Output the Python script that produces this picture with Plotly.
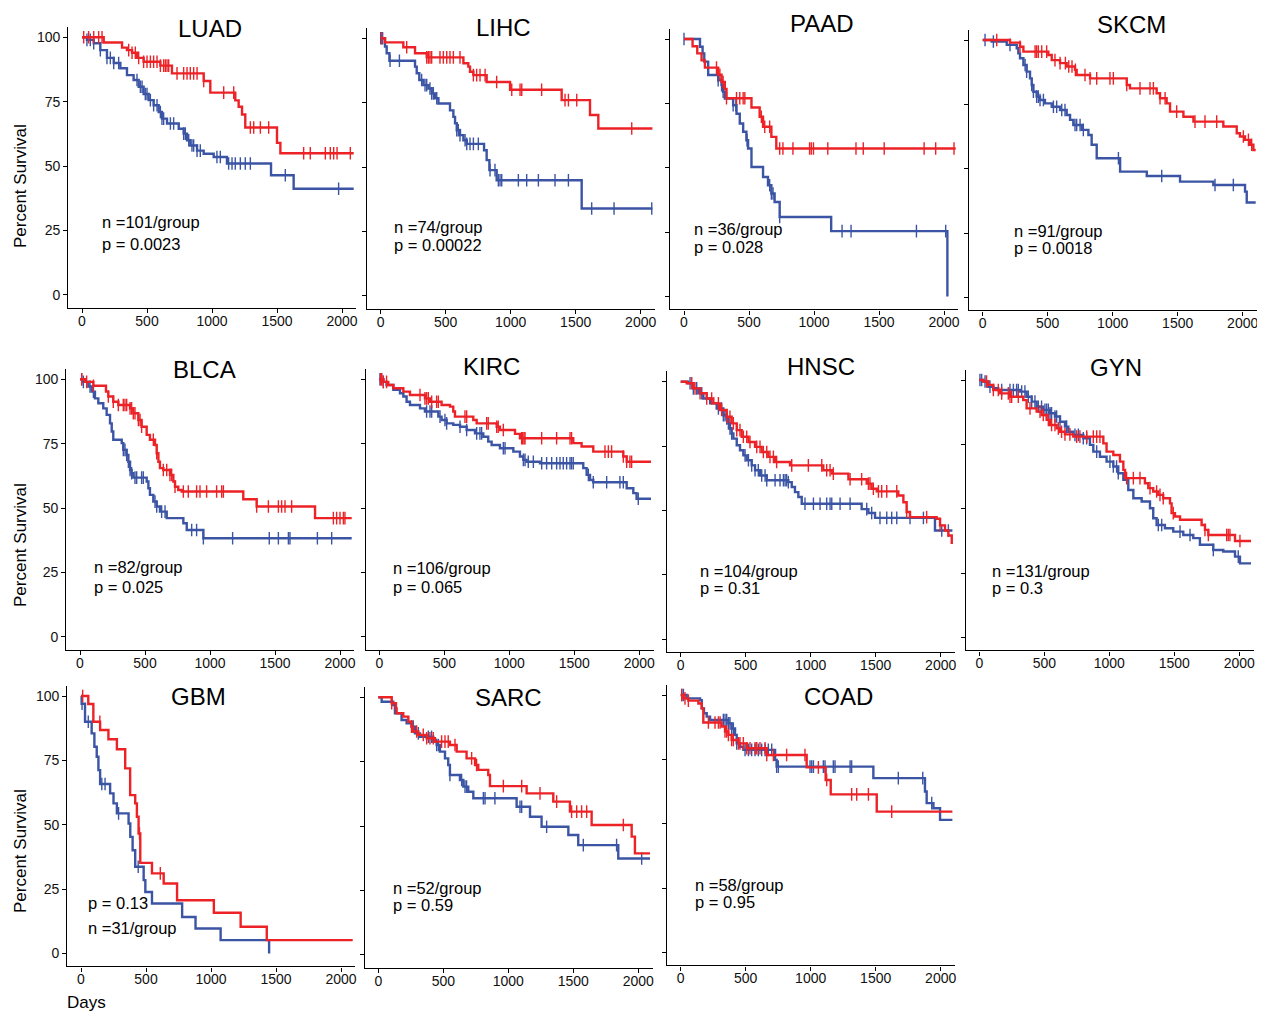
import plotly.graph_objects as go

# ---------------------------------------------------------------- labels
CANCERS = ["LUAD", "LIHC", "PAAD", "SKCM", "BLCA", "KIRC", "HNSC", "GYN", "GBM", "SARC", "COAD"]
N_PER_GROUP = [101, 74, 36, 91, 82, 106, 104, 131, 31, 52, 58]
P_VALUES = ["0.0023", "0.00022", "0.028", "0.0018", "0.025", "0.065", "0.31", "0.3", "0.13", "0.59", "0.95"]
X_TICKS = [0, 500, 1000, 1500, 2000]
Y_TICKS = [0, 25, 50, 75, 100]

# ---------------------------------------------------------------- data (days, % survival, censor days)
LUAD_RED_T = [0, 167, 308, 346, 385, 423, 474, 603, 692, 936, 987, 1179, 1205, 1231, 1256, 1500, 1526, 2090]
LUAD_RED_S = [100, 98, 96, 95, 94, 92, 90.5, 89, 86, 83, 78.5, 75.5, 73, 70, 65, 59, 55, 55]
LUAD_RED_C = [13, 51, 90, 128, 154, 359, 385, 410, 436, 474, 500, 526, 551, 577, 603, 628, 641, 654, 667, 731,
              782, 808, 833, 859, 885, 936, 1090, 1167, 1295, 1321, 1372, 1436, 1705, 1756, 1872, 1910, 1936, 1962, 2064]
LUAD_BLUE_T = [0, 38, 90, 141, 192, 244, 295, 346, 397, 436, 474, 513, 551, 590, 615, 654, 744, 782, 808, 833,
               885, 936, 1013, 1115, 1454, 1628, 2090]
LUAD_BLUE_S = [100, 99, 97.7, 95, 92, 90, 88, 85.3, 83.4, 80.8, 78, 75.6, 73.6, 71, 68.4, 66.5, 64.5, 62.6, 60, 58,
               56, 54.8, 53.5, 51, 46.4, 41.2, 41.2]
LUAD_BLUE_C = [38, 64, 90, 141, 192, 218, 244, 282, 423, 449, 462, 487, 500, 526, 551, 577, 603, 615, 628, 680, 705,
               782, 795, 821, 846, 859, 885, 910, 1038, 1064, 1128, 1154, 1179, 1218, 1256, 1295, 1564, 1974]

LIHC_RED_T = [0, 33, 174, 264, 354, 636, 674, 687, 713, 815, 995, 1392, 1610, 1674, 2090]
LIHC_RED_S = [100, 98.4, 96.5, 94.2, 92.6, 90.3, 89, 87, 85.7, 83, 80, 76, 70.2, 65, 65]
LIHC_RED_C = [8, 200, 354, 367, 379, 392, 456, 482, 508, 533, 559, 610, 713, 738, 764, 803, 892, 1008, 1072, 1085,
              1238, 1418, 1444, 1508, 1931]
LIHC_BLUE_T = [0, 33, 46, 67, 264, 277, 297, 328, 367, 392, 418, 444, 533, 559, 572, 585, 610, 636, 662, 795, 815,
               836, 892, 1546, 2090]
LIHC_BLUE_S = [100, 96.8, 94.2, 91.3, 89, 86.4, 83.8, 81.8, 80.5, 78.6, 76.7, 74.7, 72, 69.5, 67, 64.3, 62.4, 60.4,
               59, 56.5, 52.7, 48.8, 44.9, 33.9, 33.9]
LIHC_BLUE_C = [0, 15, 72, 144, 315, 341, 354, 379, 392, 405, 431, 585, 597, 610, 649, 662, 687, 713, 751, 841, 879,
               905, 918, 931, 1059, 1123, 1213, 1341, 1444, 1623, 1795, 2085]

PAAD_RED_T = [0, 66, 102, 135, 161, 263, 289, 314, 327, 519, 582, 608, 672, 710, 2090]
PAAD_RED_S = [100, 97.2, 94.4, 91.7, 88.9, 86.1, 83.3, 80.6, 77, 73.4, 69.8, 65.9, 62, 57.5, 57.5]
PAAD_RED_C = [250, 276, 301, 327, 404, 429, 455, 468, 595, 621, 659, 736, 761, 838, 966, 979, 996, 1106, 1323, 1379,
              1540, 1847, 1936, 2077]
PAAD_BLUE_T = [0, 123, 143, 156, 186, 263, 289, 301, 314, 378, 404, 429, 455, 480, 493, 519, 608, 646, 672, 697,
               736, 1132, 2026]
PAAD_BLUE_S = [100, 97, 94.4, 91.2, 86, 84, 82.1, 79.5, 76.9, 74.3, 71, 67.2, 64, 60.7, 57.5, 50.3, 46.4, 43.2, 40,
               36.7, 30.9, 25.4, 0]
PAAD_BLUE_C = [0, 263, 289, 301, 378, 399, 485, 659, 672, 685, 736, 1216, 1285, 1788, 2013]

SKCM_RED_T = [0, 210, 287, 313, 505, 531, 595, 646, 710, 723, 826, 1108, 1133, 1338, 1364, 1415, 1441, 1544, 1621,
              1851, 1954, 1979, 2018, 2056, 2082, 2100]
SKCM_RED_S = [100, 99, 97.4, 95.5, 94.2, 92.2, 91, 89.7, 88.4, 86.4, 85.1, 82.5, 81.2, 79.3, 77.4, 75.4, 72.2, 70.2,
              68.3, 66.4, 63.8, 62.5, 61.2, 59.3, 57.3, 57.3]
SKCM_RED_C = [108, 287, 403, 415, 428, 454, 492, 556, 595, 636, 662, 687, 713, 787, 826, 877, 979, 1005, 1108, 1210,
              1287, 1313, 1364, 1403, 1492, 1633, 1710, 1800, 2005, 2044, 2069]
SKCM_BLUE_T = [0, 69, 185, 262, 274, 287, 313, 338, 364, 377, 390, 415, 441, 479, 531, 595, 646, 672, 697, 762, 813,
               838, 877, 1057, 1262, 1518, 1774, 2018, 2031, 2100]
SKCM_BLUE_S = [100, 99.4, 98.1, 96.8, 94.8, 92.9, 90.3, 87.7, 85.1, 82.5, 79.9, 78, 76.7, 75.4, 74.1, 72.8, 70.9, 69,
               67, 65.1, 63.1, 59.3, 54.1, 48.9, 47.2, 45, 43.7, 41.1, 36.9, 36.9]
SKCM_BLUE_C = [18, 82, 210, 326, 338, 377, 390, 415, 428, 441, 467, 544, 569, 608, 633, 710, 723, 749, 774, 1044,
               1377, 1787, 1928]

BLCA_RED_T = [0, 38, 103, 200, 218, 256, 295, 385, 410, 449, 474, 513, 538, 577, 590, 603, 615, 641, 692, 718, 731,
              756, 782, 1256, 1359, 1808, 2090]
BLCA_RED_S = [100, 99, 97.5, 95.2, 93.3, 91.3, 90, 88.7, 86.8, 84.2, 81.6, 78.4, 76.5, 74.5, 71.3, 68, 65.5, 64.8,
              62.9, 60.3, 58.3, 57, 56.4, 53.4, 50.6, 46.1, 46.1]
BLCA_RED_C = [13, 51, 103, 218, 256, 295, 333, 346, 359, 385, 397, 410, 423, 449, 462, 474, 564, 590, 641, 667, 692,
              705, 731, 795, 833, 897, 923, 974, 1051, 1090, 1103, 1359, 1449, 1526, 1551, 1577, 1628, 1949, 1974,
              2000, 2026, 2038]
BLCA_BLUE_T = [0, 26, 64, 90, 115, 141, 179, 205, 231, 244, 256, 321, 333, 359, 372, 385, 397, 410, 513, 526, 538,
               564, 590, 615, 667, 795, 821, 949, 2090]
BLCA_BLUE_S = [100, 99, 97.2, 95.2, 92.6, 90.7, 88.7, 86.2, 82.9, 79.7, 76.5, 75.2, 72.6, 70.6, 68, 64.8, 63.5, 61.8,
               60.3, 57.7, 55.1, 52.5, 50.6, 48.6, 46.1, 44.1, 41.5, 38.3, 38.3]
BLCA_BLUE_C = [13, 26, 77, 103, 333, 346, 359, 372, 385, 397, 423, 436, 474, 487, 577, 590, 628, 654, 859, 897, 949,
               1174, 1456, 1526, 1603, 1615, 1826, 1936]

KIRC_RED_T = [0, 31, 69, 108, 185, 236, 351, 390, 479, 544, 569, 582, 723, 749, 903, 928, 1044, 1082, 1492, 1556,
              1646, 1877, 1903, 2090]
KIRC_RED_S = [100, 99, 97.8, 96.5, 95.2, 93.9, 92.6, 91.3, 90, 89.4, 87.5, 85.5, 84.2, 82.9, 81.6, 80.3, 78.8, 77.1,
              75.2, 73.9, 71.9, 70, 68, 68]
KIRC_RED_C = [10, 18, 31, 56, 313, 351, 364, 377, 403, 441, 454, 659, 672, 826, 838, 903, 915, 954, 1095, 1103, 1113,
              1121, 1249, 1364, 1467, 1479, 1736, 1762, 1787, 1877, 1903, 1928, 1941]
KIRC_BLUE_T = [0, 31, 56, 108, 159, 185, 210, 236, 313, 351, 454, 479, 518, 569, 621, 672, 736, 800, 838, 864, 928,
               1031, 1082, 1108, 1133, 1236, 1569, 1595, 1621, 1646, 1903, 1954, 1979, 2090]
KIRC_BLUE_S = [100, 99, 97.8, 95.9, 94.6, 93.3, 91.3, 90, 88.7, 87.5, 85.5, 84.2, 82.9, 82.3, 81.6, 80.3, 79, 77.7,
               75.8, 74.5, 73.2, 71.9, 70, 68.7, 68, 67.4, 65.5, 62.9, 60.9, 60, 57.7, 55.8, 53.6, 53.6]
KIRC_BLUE_C = [5, 18, 31, 364, 390, 403, 467, 505, 518, 621, 672, 749, 774, 787, 954, 967, 1108, 1121, 1146, 1185,
               1249, 1287, 1326, 1364, 1390, 1415, 1441, 1467, 1479, 1492, 1608, 1646, 1749, 1851, 1877, 1992]

HNSC_RED_T = [0, 46, 97, 149, 200, 251, 303, 354, 392, 431, 469, 521, 572, 623, 674, 726, 841, 1097, 1162, 1290,
              1431, 1469, 1508, 1674, 1713, 1738, 1764, 1969, 1995, 2033, 2059, 2085]
HNSC_RED_S = [100, 99.4, 97.4, 95.5, 93.5, 91.6, 89, 86.4, 83.8, 81.2, 78.6, 76.6, 74.7, 72.7, 70.8, 68.8, 67.5,
              65.6, 64.3, 62.1, 60.4, 58.4, 57.4, 55.8, 53.2, 49.4, 47.4, 46.8, 44.2, 42.2, 40.3, 37]
HNSC_RED_C = [85, 110, 149, 200, 238, 290, 315, 354, 379, 405, 431, 456, 482, 508, 533, 585, 610, 636, 662, 687, 713,
              738, 854, 982, 1085, 1123, 1149, 1174, 1303, 1392, 1444, 1456, 1482, 1521, 1546, 1585, 1662, 1738,
              1892, 1995]
HNSC_BLUE_T = [0, 59, 97, 136, 174, 226, 277, 328, 354, 367, 379, 392, 405, 431, 456, 482, 508, 546, 572, 610, 662,
               828, 854, 879, 905, 931, 1392, 1444, 1495, 1956, 2090]
HNSC_BLUE_S = [100, 99.4, 97.4, 95.5, 93.5, 91.6, 89.6, 87, 85.7, 83.8, 81.8, 79.9, 77.9, 75.3, 73.4, 71.4, 69.5,
               67.5, 65.6, 63.6, 61.7, 61, 59.1, 57.1, 55.2, 52.6, 50.5, 49, 47.1, 42.2, 42.2]
HNSC_BLUE_C = [72, 97, 123, 162, 290, 315, 328, 341, 354, 367, 379, 392, 495, 521, 546, 572, 597, 623, 649, 662, 726,
               764, 790, 803, 815, 828, 956, 1021, 1072, 1123, 1149, 1162, 1226, 1303, 1431, 1469, 1533, 1585, 1623,
               1662, 1764, 1867, 2008, 2059]

GYN_RED_T = [0, 31, 69, 108, 159, 236, 338, 364, 441, 479, 518, 544, 595, 621, 659, 723, 954, 979, 1031, 1082, 1108,
             1121, 1274, 1300, 1338, 1377, 1415, 1467, 1479, 1505, 1544, 1710, 1736, 1762, 1967, 2090]
GYN_RED_S = [100, 99.4, 98.1, 96.1, 94.8, 93.5, 92.2, 89, 87.7, 86.4, 84.5, 82.5, 81.2, 79.9, 78.9, 78, 75.4, 72.2,
             70.9, 68.3, 65.1, 61.9, 59.9, 58, 56.7, 55.4, 54.1, 52.1, 48.3, 47, 45.7, 43.7, 41.8, 39.8, 37.5, 37.5]
GYN_RED_C = [56, 108, 146, 172, 223, 236, 249, 300, 390, 467, 492, 531, 556, 582, 608, 633, 659, 697, 749, 774, 826,
             877, 903, 928, 1133, 1185, 1236, 1313, 1364, 1390, 1415, 1492, 1736, 1762, 1903, 1915, 1928, 2005]
GYN_BLUE_T = [0, 31, 69, 108, 146, 313, 364, 403, 441, 492, 544, 582, 621, 659, 685, 723, 800, 851, 877, 928, 979,
              1031, 1069, 1108, 1146, 1185, 1249, 1313, 1338, 1364, 1428, 1492, 1569, 1646, 1697, 1800, 1877, 1967,
              2005, 2090]
GYN_BLUE_S = [100, 99.4, 97.4, 96.8, 96.1, 95.5, 93.5, 91.6, 89.6, 88.4, 87.1, 85.8, 83.8, 81.9, 79.9, 78.7, 77.4,
              74.8, 72.2, 70.2, 68.3, 66.4, 63.8, 61.2, 57.3, 54.1, 52.8, 50.2, 46.3, 43.7, 42.4, 41.1, 39.8, 38.6, 36,
              34, 33.4, 31.4, 28.8, 28.8]
GYN_BLUE_C = [5, 18, 44, 82, 172, 236, 262, 287, 300, 326, 351, 377, 403, 428, 454, 479, 505, 518, 531, 544, 556, 582,
              595, 621, 672, 736, 762, 800, 826, 903, 1005, 1031, 1056, 1069, 1377, 1403, 1544, 1621, 1800, 1992]

GBM_RED_T = [0, 56, 95, 147, 211, 276, 340, 378, 417, 430, 443, 456, 546, 636, 739, 1022, 1228, 1429, 2090]
GBM_RED_S = [100, 96.9, 90, 86.8, 83.2, 79.3, 71.9, 61.5, 58.3, 53.1, 46.6, 35.2, 31.1, 27.2, 20.7, 15.8, 10.4, 5.2, 5.2]
GBM_RED_C = [13, 145, 450, 610]
GBM_BLUE_T = [0, 5, 31, 82, 103, 121, 134, 147, 224, 250, 276, 366, 379, 397, 417, 482, 495, 546, 778, 881, 1074, 1447]
GBM_BLUE_S = [100, 97, 90, 85.5, 80.3, 76.4, 71.2, 65.8, 62.2, 58.3, 54.4, 50.5, 45.3, 40.1, 33.7, 28.5, 23.9, 19.4,
              14.2, 9.7, 5.2, 0]
GBM_BLUE_C = [8, 56, 160, 185, 289, 440]

SARC_RED_T = [0, 103, 136, 141, 192, 231, 256, 269, 308, 372, 436, 551, 603, 679, 744, 769, 846, 859, 1141, 1346,
              1474, 1641, 1949, 1974, 2090]
SARC_RED_S = [100, 97.7, 95.7, 93.8, 92.5, 90.5, 88.6, 86.7, 85.4, 84.1, 82.8, 81.5, 78.9, 76.3, 73.7, 71.8, 69.8,
              65.5, 62.7, 59.5, 55.6, 50.4, 45.9, 39.4, 39.4]
SARC_RED_C = [103, 256, 295, 346, 372, 397, 423, 487, 513, 538, 590, 718, 756, 962, 1103, 1244, 1372, 1487, 1526,
              1564, 1603, 1885]
SARC_BLUE_T = [0, 26, 115, 128, 179, 218, 256, 282, 321, 423, 449, 474, 513, 538, 551, 628, 654, 692, 731, 1064, 1167,
               1256, 1462, 1538, 1846, 2090]
SARC_BLUE_S = [100, 98.3, 97, 93.8, 91.2, 89.9, 88.6, 86, 84.7, 82.8, 81.5, 78.9, 76.3, 73.7, 69.8, 67.9, 65.3, 63.3,
               60.8, 57.5, 53.6, 49.7, 46.5, 42.6, 37.4, 37.4]
SARC_BLUE_C = [256, 269, 308, 385, 410, 449, 462, 551, 641, 667, 679, 808, 821, 897, 1090, 1103, 1295, 1577, 1833, 2026]

COAD_RED_T = [0, 21, 59, 136, 162, 174, 315, 341, 367, 392, 444, 508, 662, 969, 1115, 1154, 1508, 2090]
COAD_RED_S = [100, 98.7, 97.8, 96.7, 94.8, 89.3, 87.7, 85.8, 84.5, 82.5, 81.2, 79.3, 76.7, 71.9, 67, 61.4, 54.7, 54.7]
COAD_RED_C = [8, 33, 59, 213, 264, 290, 303, 341, 354, 367, 392, 405, 444, 456, 482, 508, 533, 572, 585, 610, 649, 662,
              713, 815, 956, 1059, 1123, 1315, 1354, 1444, 1623]
COAD_BLUE_T = [0, 46, 149, 162, 179, 200, 226, 367, 392, 418, 431, 456, 482, 726, 738, 1482, 1879, 1892, 1944, 1995,
               2090]
COAD_BLUE_S = [100, 98.7, 98, 94.8, 92.9, 91.6, 90.3, 89, 87, 84.5, 81.2, 79.9, 78.7, 74.8, 72.2, 67.7, 62.5, 58, 56,
               51.5, 51.5]
COAD_BLUE_C = [8, 21, 328, 341, 354, 367, 379, 392, 405, 431, 495, 521, 546, 572, 597, 623, 649, 674, 700, 738, 751,
               995, 1008, 1021, 1097, 1110, 1174, 1187, 1303, 1315, 1674, 1862, 1931]

CURVES = {
    "LUAD": [(LUAD_BLUE_T, LUAD_BLUE_S, LUAD_BLUE_C), (LUAD_RED_T, LUAD_RED_S, LUAD_RED_C)],
    "LIHC": [(LIHC_BLUE_T, LIHC_BLUE_S, LIHC_BLUE_C), (LIHC_RED_T, LIHC_RED_S, LIHC_RED_C)],
    "PAAD": [(PAAD_BLUE_T, PAAD_BLUE_S, PAAD_BLUE_C), (PAAD_RED_T, PAAD_RED_S, PAAD_RED_C)],
    "SKCM": [(SKCM_BLUE_T, SKCM_BLUE_S, SKCM_BLUE_C), (SKCM_RED_T, SKCM_RED_S, SKCM_RED_C)],
    "BLCA": [(BLCA_BLUE_T, BLCA_BLUE_S, BLCA_BLUE_C), (BLCA_RED_T, BLCA_RED_S, BLCA_RED_C)],
    "KIRC": [(KIRC_BLUE_T, KIRC_BLUE_S, KIRC_BLUE_C), (KIRC_RED_T, KIRC_RED_S, KIRC_RED_C)],
    "HNSC": [(HNSC_BLUE_T, HNSC_BLUE_S, HNSC_BLUE_C), (HNSC_RED_T, HNSC_RED_S, HNSC_RED_C)],
    "GYN": [(GYN_BLUE_T, GYN_BLUE_S, GYN_BLUE_C), (GYN_RED_T, GYN_RED_S, GYN_RED_C)],
    "GBM": [(GBM_BLUE_T, GBM_BLUE_S, GBM_BLUE_C), (GBM_RED_T, GBM_RED_S, GBM_RED_C)],
    "SARC": [(SARC_BLUE_T, SARC_BLUE_S, SARC_BLUE_C), (SARC_RED_T, SARC_RED_S, SARC_RED_C)],
    "COAD": [(COAD_BLUE_T, COAD_BLUE_S, COAD_BLUE_C), (COAD_RED_T, COAD_RED_S, COAD_RED_C)],
}

# ---------------------------------------------------------------- layout / styles
PAGE_W, PAGE_H = 1265, 1013
PAGE_MARGIN = 8                      # default body margin of the page holding the figure
W, H = PAGE_W - PAGE_MARGIN, PAGE_H - PAGE_MARGIN
COLORS = ["#3B54A4", "#EC2227"]          # blue (low), red (high)
FONT = "Liberation Sans, Arial, Helvetica, sans-serif"
# positions below are in page pixels
PANEL_X0 = [82, 380.7, 684, 982.7, 80, 379.3, 680.7, 979.3, 81, 378.3, 680.7]    # pixel of day 0
PANEL_Y100 = [37.3, 38.3, 39, 40, 379.3, 379.3, 381.7, 380, 696, 697.3, 695]     # pixel of 100 %
PX_PER_DAY = 0.13
PX_PER_PCT = 2.575
XMIN, XMAX = -105, 2110
YMIN, YMAX = -5, 104
TITLE_XY = [(210, 28), (504, 27), (822, 23), (1131, 24), (204, 369), (491, 367), (821, 367), (1116, 368),
            (198, 696), (508, 697), (838, 696)]
STAT_X = [100, 392, 692, 1012, 92, 391, 698, 990, 86, 391, 693]
STAT_Y = [(222, 244), (227, 245), (229, 247), (231, 248), (567, 587), (568, 587), (571, 588), (571, 588),
          (928, 903), (888, 905), (885, 902)]        # (n line, p line)
YTITLE_Y = [186, 545, 851]
STAT_FONT = 16.5


def fx(px):
    return (px - PAGE_MARGIN) / W


def fy(py):
    return 1 - (py - PAGE_MARGIN) / H


def surv_at(T, S, t):
    v = S[0]
    for ti, si in zip(T, S):
        if ti <= t:
            v = si
        else:
            break
    return v


fig = go.Figure()
annotations = []
for i, name in enumerate(CANCERS):
    k = i + 1
    xa = "x" if k == 1 else f"x{k}"
    ya = "y" if k == 1 else f"y{k}"
    for (T, S, C), col in zip(CURVES[name], COLORS):
        fig.add_trace(go.Scatter(x=T, y=S, mode="lines", line=dict(color=col, width=2.4, shape="hv"),
                                 xaxis=xa, yaxis=ya, showlegend=False, hoverinfo="skip"))
        fig.add_trace(go.Scatter(x=C, y=[surv_at(T, S, c) for c in C], mode="markers",
                                 marker=dict(symbol="line-ns", size=9, line=dict(color=col, width=1.4)),
                                 xaxis=xa, yaxis=ya, showlegend=False, hoverinfo="skip"))
    x0, y100 = PANEL_X0[i], PANEL_Y100[i]
    left = x0 + XMIN * PX_PER_DAY
    right = x0 + XMAX * PX_PER_DAY
    top = y100 - (YMAX - 100) * PX_PER_PCT
    bottom = y100 + (100 - YMIN) * PX_PER_PCT
    axis_common = dict(showline=True, linecolor="black", linewidth=1.3, ticks="outside", ticklen=4,
                       tickwidth=1.2, tickcolor="black", showgrid=False, zeroline=False,
                       tickfont=dict(family=FONT, size=14, color="#111"))
    fig.layout[f"xaxis{k if k > 1 else ''}"] = dict(
        axis_common, domain=[fx(left), fx(right)], range=[XMIN, XMAX], tickvals=X_TICKS, anchor=ya,
        ticklabelstandoff=-4)
    fig.layout[f"yaxis{k if k > 1 else ''}"] = dict(
        axis_common, domain=[fy(bottom), fy(top)], range=[YMIN, YMAX], tickvals=Y_TICKS,
        showticklabels=(i % 4 == 0), anchor=xa)
    tx, ty = TITLE_XY[i]
    annotations.append(dict(text=name, x=fx(tx), y=fy(ty), xref="paper", yref="paper", showarrow=False,
                            xanchor="center", yanchor="middle", font=dict(family=FONT, size=24, color="black")))
    ny, py = STAT_Y[i]
    annotations.append(dict(text=f"n ={N_PER_GROUP[i]}/group", x=fx(STAT_X[i]), y=fy(ny), xref="paper",
                            yref="paper", showarrow=False, xanchor="left", yanchor="middle",
                            font=dict(family=FONT, size=STAT_FONT, color="black")))
    annotations.append(dict(text=f"p = {P_VALUES[i]}", x=fx(STAT_X[i]), y=fy(py), xref="paper",
                            yref="paper", showarrow=False, xanchor="left", yanchor="middle",
                            font=dict(family=FONT, size=STAT_FONT, color="black")))

for yy in YTITLE_Y:
    annotations.append(dict(text="Percent Survival", x=fx(20), y=fy(yy), xref="paper", yref="paper",
                            showarrow=False, textangle=-90, xanchor="center", yanchor="middle",
                            font=dict(family=FONT, size=17, color="black")))
annotations.append(dict(text="Days", x=fx(86), y=fy(1002), xref="paper", yref="paper", showarrow=False,
                        xanchor="center", yanchor="middle", font=dict(family=FONT, size=17, color="black")))

fig.update_layout(width=W, height=H, margin=dict(l=0, r=0, t=0, b=0), paper_bgcolor="white",
                  plot_bgcolor="white", annotations=annotations, showlegend=False)

fig.write_html("out.html")
